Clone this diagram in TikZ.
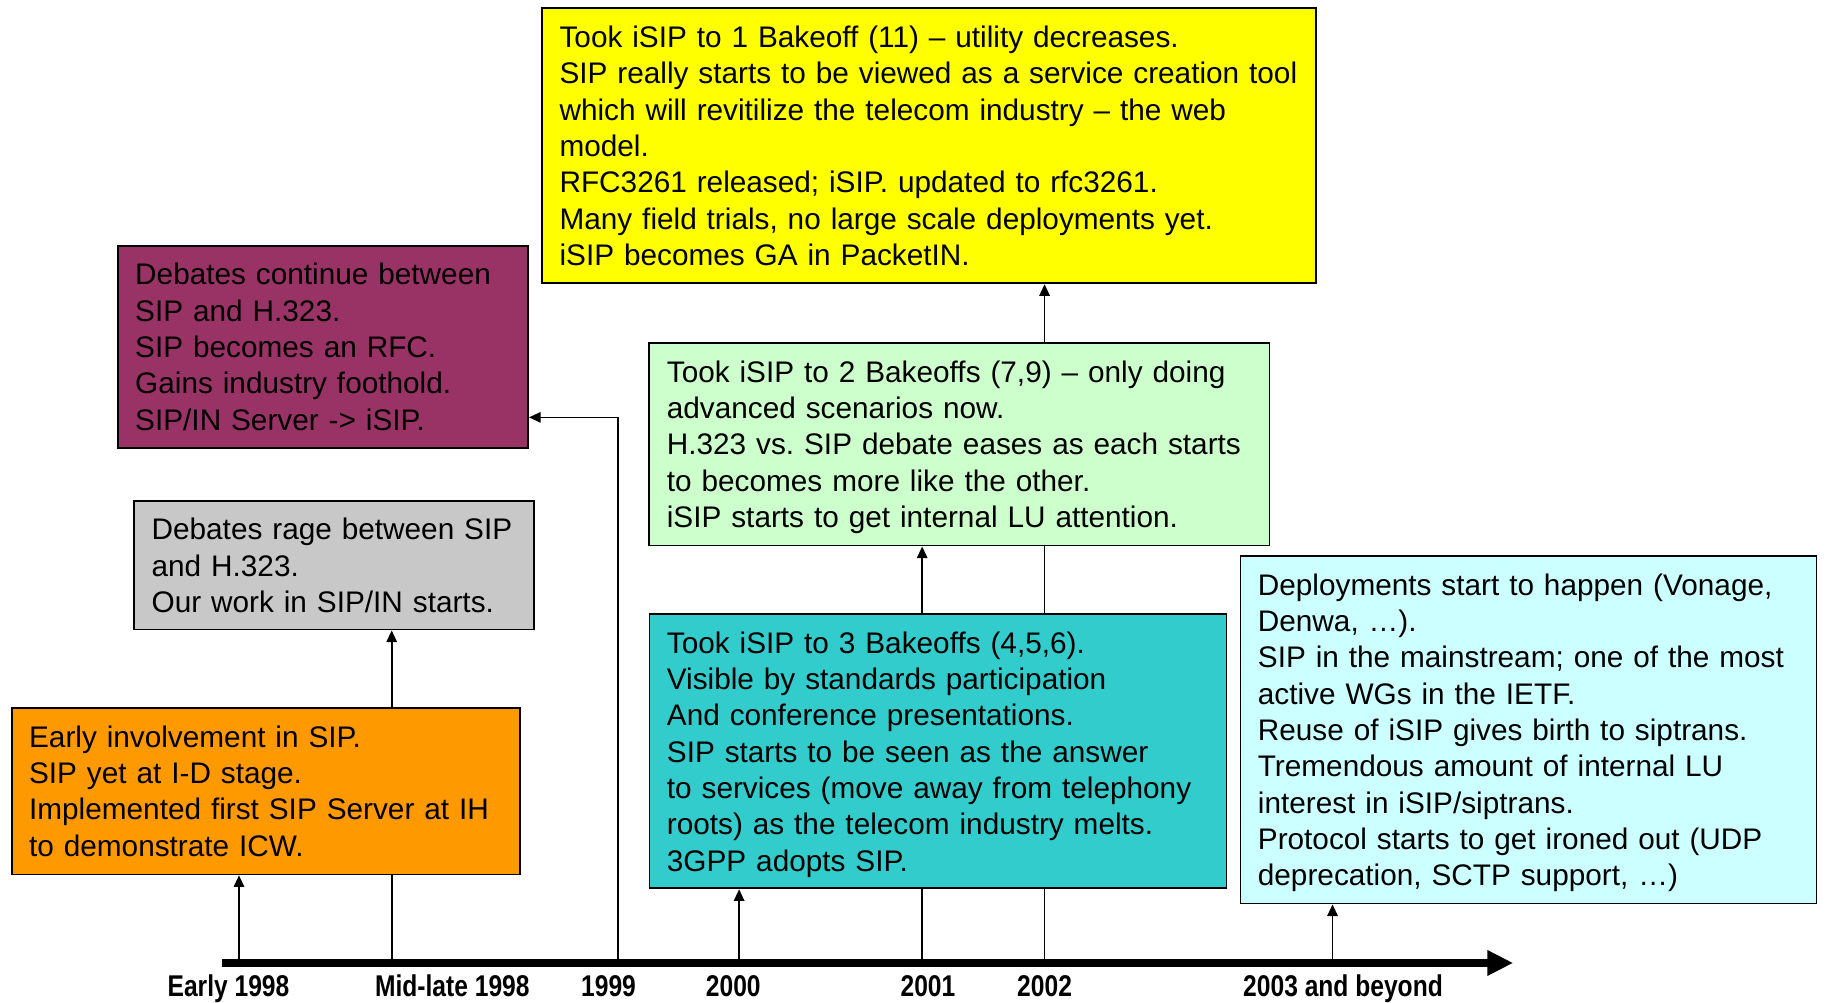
\documentclass[tikz,border=0pt]{standalone}
\usepackage{fontspec}
\setmainfont{Liberation Sans}
\newfontfamily\yearfont{Liberation Sans}[FakeStretch=0.82]
\usetikzlibrary{arrows.meta}

\pgfdeclarelayer{links}
\pgfsetlayers{links,main}

\definecolor{evorange}{HTML}{FF9900}
\definecolor{evgray}{HTML}{C8C8C8}
\definecolor{evpurple}{HTML}{993366}
\definecolor{evyellow}{HTML}{FFFF00}
\definecolor{evgreen}{HTML}{CCFFCC}
\definecolor{evteal}{HTML}{33CCCC}
\definecolor{evcyan}{HTML}{CCFFFF}

\frenchspacing
\newcommand\boxfont{\fontsize{14.88}{18.16}\selectfont}
% left-aligned lines that never re-break; the first row gets a little extra headroom
\newenvironment{evlines}{\begin{tabular}{@{}l@{}}\rule{0pt}{16.2pt}}{\end{tabular}}

\begin{document}
\begin{tikzpicture}[x=0.5829pt, y=-0.5829pt,
  evbox/.style n args={4}{draw=black, line width=0.9pt, fill=#1,
    minimum width=#2, minimum height=#3, text width=#4,
    inner sep=0pt, align=left, font=\boxfont},
  link/.style={line width=0.85pt, -{Triangle[length=5.8pt,width=5.2pt]}},
  axisline/.style={line width=4pt, -{Triangle[length=13pt,width=12pt]}},
  yearlbl/.style={font=\yearfont\fontsize{15}{17}\bfseries, inner sep=0pt, anchor=base}]

\useasboundingbox (0,0) rectangle (1568,860);

% event boxes
\node[evbox={evorange}{254.1pt}{83.4pt}{236.7pt}] (orange) at (228,678.5)
  {\begin{evlines}Early involvement in SIP.\\SIP yet at I-D stage.\\
   Implemented first SIP Server at IH\\to demonstrate ICW.\end{evlines}};
\node[evbox={evgray}{199.9pt}{64.1pt}{182.4pt}] (gray) at (286.5,485)
  {\begin{evlines}Debates rage between SIP\\and H.323.\\
   Our work in SIP/IN starts.\end{evlines}};
\node[evbox={evpurple}{205.2pt}{100.8pt}{187.7pt}] (purple) at (277,297.5)
  {\begin{evlines}Debates continue between\\SIP and H.323.\\SIP becomes an RFC.\\
   Gains industry foothold.\\SIP/IN Server -> iSIP.\end{evlines}};
\node[evbox={evyellow}{387.0pt}{137.6pt}{369.6pt}] (yellow) at (797,125)
  {\begin{evlines}Took iSIP to 1 Bakeoff (11) -- utility decreases.\\
   SIP really starts to be viewed as a service creation tool\\
   which will revitilize the telecom industry -- the web\\model.\\
   RFC3261 released; iSIP. updated to rfc3261.\\
   Many field trials, no large scale deployments yet.\\
   iSIP becomes GA in PacketIN.\end{evlines}};
\node[evbox={evgreen}{310.1pt}{101.4pt}{292.6pt}] (green) at (823,381)
  {\begin{evlines}Took iSIP to 2 Bakeoffs (7,9) -- only doing\\
   advanced scenarios now.\\
   H.323 vs. SIP debate eases as each starts\\
   to becomes more like the other.\\
   iSIP starts to get internal LU attention.\end{evlines}};
\node[evbox={evteal}{288.5pt}{137.0pt}{271.0pt}] (teal) at (804.5,644.5)
  {\begin{evlines}Took iSIP to 3 Bakeoffs (4,5,6).\\
   Visible by standards participation\\
   And conference presentations.\\
   SIP starts to be seen as the answer\\
   to services (move away from telephony\\
   roots) as the telecom industry melts.\\
   3GPP adopts SIP.\end{evlines}};
\node[evbox={evcyan}{288.0pt}{173.7pt}{270.5pt}] (cyan) at (1311,626)
  {\begin{evlines}Deployments start to happen (Vonage,\\
   Denwa, \dots).\\
   SIP in the mainstream; one of the most\\
   active WGs in the IETF.\\
   Reuse of iSIP gives birth to siptrans.\\
   Tremendous amount of internal LU\\
   interest in iSIP/siptrans.\\
   Protocol starts to get ironed out (UDP\\
   deprecation, SCTP support, \dots)\end{evlines}};

% time axis and its ticks
\coordinate (axL) at (190,826);
\coordinate (axR) at (1298,826);
\coordinate (t1) at (205,826);
\coordinate (t2) at (336,826);
\coordinate (t3) at (530,826);
\coordinate (t4) at (634,826);
\coordinate (t5) at (791,826);
\coordinate (t6) at (896,826);
\coordinate (t7) at (1143,826);
\coordinate (k3) at (530,358);

\begin{pgfonlayer}{links}
  \fill[white] (0,0) rectangle (1568,860);
  \draw[link] (t1) -- (t1 |- orange.south);
  \draw[link] (t2) -- (t2 |- gray.south);
  \draw[link] (t3) -- (k3) -- (k3 -| purple.east);
  \draw[link] (t4) -- (t4 |- teal.south);
  \draw[link] (t5) -- (t5 |- green.south);
  \draw[link] (t6) -- (t6 |- yellow.south);
  \draw[link] (t7) -- (t7 |- cyan.south);
\end{pgfonlayer}

\draw[axisline] (axL) -- (axR);

% period labels
\node[yearlbl] (y1) at (196,855) {Early 1998};
\node[yearlbl] (y2) at (388,855) {Mid-late 1998};
\node[yearlbl] (y3) at (522,855) {1999};
\node[yearlbl] (y4) at (629,855) {2000};
\node[yearlbl] (y5) at (796,855) {2001};
\node[yearlbl] (y6) at (896,855) {2002};
\node[yearlbl] (y7) at (1152,855) {2003 and beyond};
\end{tikzpicture}
\end{document}
